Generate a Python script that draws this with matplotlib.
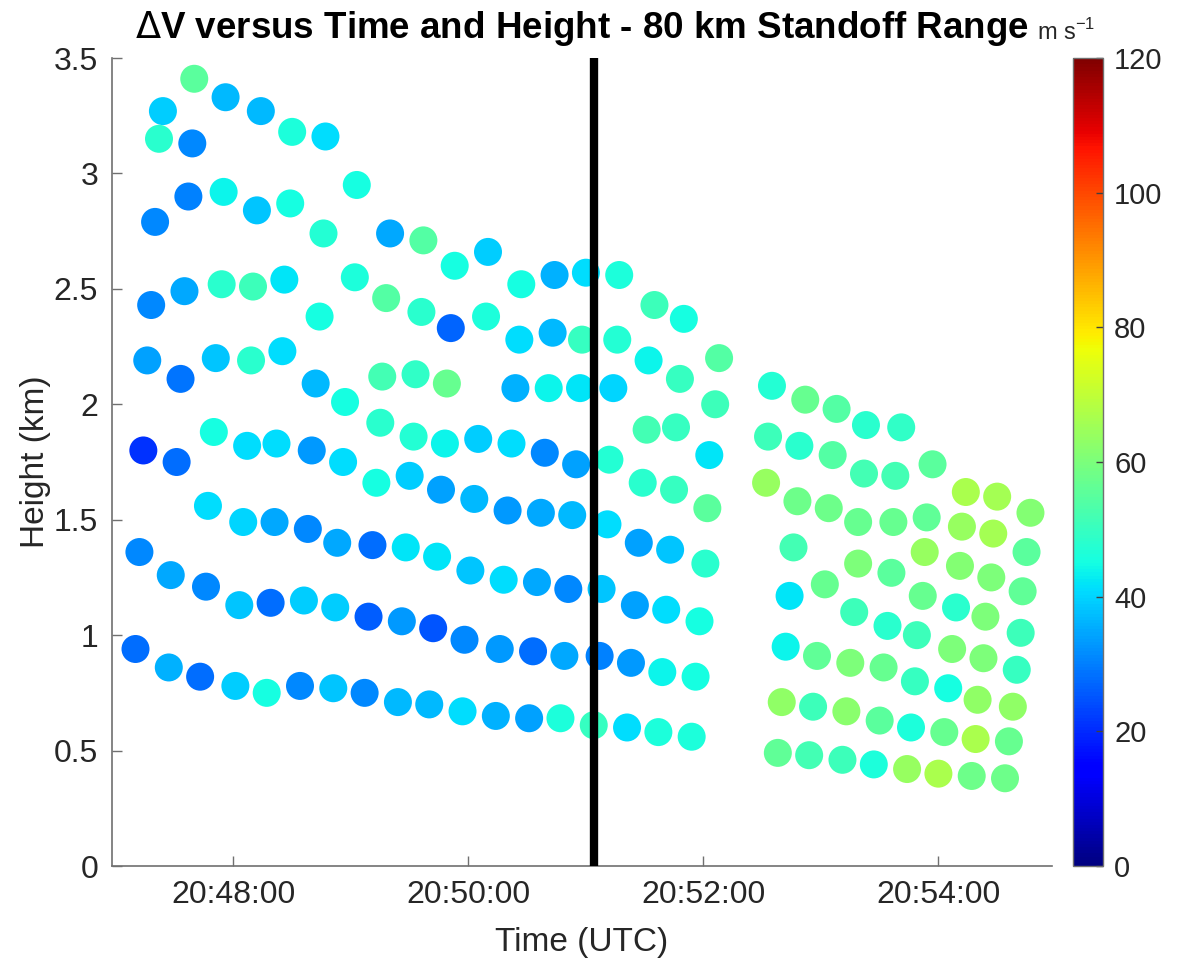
import numpy as np
import matplotlib
matplotlib.use("Agg")
import matplotlib.pyplot as plt
from matplotlib.ticker import FuncFormatter, FixedLocator

plt.rcParams['font.family'] = ['Liberation Sans', 'DejaVu Sans']

# ---- data: time in seconds relative to 20:48:00 UTC, height in km, dV in m/s ----
time_s = [
    -20, -36, -4, 14, 30, 47, -38, -21, 63, -23, -5, 12, 29, -40, 46, 80, 97,
    -42, -25, -6, 10, 26, 62, 44, 78, 96, -44, -27, -9, 9, 25, 42, 57, 76, 93,
    113, 130, 147, 164, 180, 197, 111, 129, 146, 163, 178, 196, 215, 230,
    109, 144, 161, 177, 194, 212, 248, 228, 246,
    92, 108, 125, 142, 159, 175, 192, 211, 226, 243, 209, 225, 242,
    -46, -29, -10, 7, 22, 40, 56, 73, 90, 75,
    106, 123, 140, 157, 173, 191, 207, 223, 241,
    -13, 5, 21, 38, 53, 71, 88, 104, 121, 138, 155, 171, 188, 205, 221, 238,
    -48, -32, -14, 3, 19, 36, 52, 69, 86, 102, 118, 136, 153, 169, 187, 203, 219, 236,
    -50, -33, -17, 1, 17, 34, 51, 67, 84, 100, 117, 134, 151, 167, 184, 201, 217, 234,
    # second volume
    275, 292, 308, 323, 341, 273, 289, 306, 322, 338, 357,
    272, 288, 304, 319, 337, 354, 374, 390, 407, 372, 388,
    286, 319, 336, 353, 371, 387, 405,
    284, 302, 317, 334, 352, 369, 384, 403,
    282, 298, 315, 332, 349, 367, 383, 402, 348, 365, 400,
    280, 296, 313, 330, 346, 363, 380, 379, 398, 396,
    278, 294, 311, 327, 344, 360, 377, 394,
]
height_km = [
    3.41, 3.27, 3.33, 3.27, 3.18, 3.16, 3.15, 3.13, 2.95, 2.90, 2.92, 2.84, 2.87, 2.79, 2.74, 2.74, 2.71,
    2.43, 2.49, 2.52, 2.51, 2.54, 2.55, 2.38, 2.46, 2.40, 2.19, 2.11, 2.20, 2.19, 2.23, 2.09, 2.01, 2.12, 2.13,
    2.60, 2.66, 2.52, 2.56, 2.57, 2.56, 2.33, 2.38, 2.28, 2.31, 2.28, 2.28, 2.43, 2.37,
    2.09, 2.07, 2.07, 2.07, 2.07, 2.19, 2.20, 2.11, 2.00,
    1.86, 1.83, 1.85, 1.83, 1.79, 1.74, 1.76, 1.89, 1.90, 1.78, 1.66, 1.63, 1.55,
    1.80, 1.75, 1.88, 1.82, 1.83, 1.80, 1.75, 1.66, 1.69, 1.92,
    1.63, 1.59, 1.54, 1.53, 1.52, 1.48, 1.40, 1.37, 1.31,
    1.56, 1.49, 1.49, 1.46, 1.40, 1.39, 1.38, 1.34, 1.28, 1.24, 1.23, 1.20, 1.20, 1.13, 1.11, 1.06,
    1.36, 1.26, 1.21, 1.13, 1.14, 1.15, 1.12, 1.08, 1.06, 1.03, 0.98, 0.94, 0.93, 0.91, 0.91, 0.88, 0.84, 0.82,
    0.94, 0.86, 0.82, 0.78, 0.75, 0.78, 0.77, 0.75, 0.71, 0.70, 0.67, 0.65, 0.64, 0.64, 0.61, 0.60, 0.58, 0.56,
    2.08, 2.02, 1.98, 1.91, 1.90, 1.86, 1.82, 1.78, 1.70, 1.69, 1.74,
    1.66, 1.58, 1.55, 1.49, 1.49, 1.51, 1.62, 1.60, 1.53, 1.47, 1.44,
    1.38, 1.31, 1.27, 1.36, 1.30, 1.25, 1.36,
    1.17, 1.22, 1.10, 1.04, 1.17, 1.12, 1.08, 1.19,
    0.95, 0.91, 0.88, 0.86, 1.00, 0.94, 0.90, 1.01, 0.80, 0.77, 0.85,
    0.71, 0.69, 0.67, 0.63, 0.60, 0.58, 0.72, 0.55, 0.69, 0.54,
    0.49, 0.48, 0.46, 0.44, 0.42, 0.40, 0.39, 0.38,
]
delta_v = [
    55, 39, 37, 37, 46, 41, 48, 31, 45, 30, 44, 38, 45, 31, 47, 35, 54,
    31, 35, 48, 51, 42, 46, 45, 54, 48, 34, 29, 38, 48, 41, 37, 45, 52, 49,
    45, 39, 45, 36, 41, 46, 27, 46, 41, 37, 50, 47, 51, 45,
    57, 36, 44, 42, 40, 44, 54, 50, 51,
    47, 44, 39, 41, 31, 34, 47, 52, 50, 42, 48, 50, 55,
    21, 28, 45, 41, 41, 33, 41, 45, 39, 48,
    34, 37, 33, 35, 37, 41, 34, 38, 48,
    41, 40, 35, 31, 35, 28, 42, 42, 38, 41, 35, 31, 38, 34, 41, 45,
    31, 35, 31, 38, 28, 39, 39, 26, 33, 25, 31, 33, 28, 35, 30, 33, 44, 45,
    28, 36, 28, 39, 45, 31, 38, 31, 37, 37, 41, 36, 34, 46, 50, 41, 46, 46,
    47, 57, 54, 48, 49, 51, 48, 54, 52, 52, 55,
    64, 58, 58, 57, 57, 56, 67, 66, 61, 64, 66,
    52, 60, 55, 64, 61, 60, 55,
    42, 57, 51, 48, 57, 48, 60, 56,
    44, 56, 60, 57, 51, 60, 60, 51, 50, 45, 50,
    63, 51, 62, 55, 46, 57, 63, 67, 63, 57,
    56, 52, 51, 46, 64, 67, 58, 58,
]

standoff_time_s = 184          # vertical marker (20:51:04 UTC)
x_tick_s = [0, 120, 240, 360]  # 20:48:00 ... 20:54:00
y_ticks = [0, 0.5, 1, 1.5, 2, 2.5, 3, 3.5]
cbar_ticks = [0, 20, 40, 60, 80, 100, 120]
base_hms = (20, 48, 0)

# ---- figure ----
W, H = 1179, 963
fig = plt.figure(figsize=(W / 100, H / 100), dpi=100)
ax = fig.add_axes([112 / W, 1 - 866 / H, (1052 - 112) / W, (866 - 58) / H])
cax = fig.add_axes([1073 / W, 1 - 866 / H, 30 / W, (866 - 58) / H])

marker_px = 28
sc = ax.scatter(time_s, height_km, c=delta_v, cmap='jet', vmin=0, vmax=120,
                s=(marker_px * 72 / 100) ** 2, edgecolors='none', zorder=2)
ax.plot([standoff_time_s, standoff_time_s], [0, 3.5], color='black',
        linewidth=6, solid_capstyle='butt', zorder=3)

ax.set_xlim(-62, 418)
ax.set_ylim(0, 3.5)

def fmt_time(s, pos=None):
    tot = base_hms[0] * 3600 + base_hms[1] * 60 + base_hms[2] + int(round(s))
    return f"{tot // 3600:02d}:{(tot % 3600) // 60:02d}:{tot % 60:02d}"

ax.xaxis.set_major_locator(FixedLocator(x_tick_s))
ax.xaxis.set_major_formatter(FuncFormatter(fmt_time))
ax.yaxis.set_major_locator(FixedLocator(y_ticks))
ax.yaxis.set_major_formatter(FuncFormatter(lambda v, p: f"{v:g}"))

spine_col = '#262626'
for side in ['top', 'right']:
    ax.spines[side].set_visible(False)
for side in ['left', 'bottom']:
    ax.spines[side].set_color('#707070')
    ax.spines[side].set_linewidth(1.2)
ax.tick_params(direction='in', length=7, width=1, colors='#707070',
               labelcolor=spine_col, labelsize=23, pad=10)

ax.set_xlabel('Time (UTC)', fontsize=24, color=spine_col, labelpad=12)
ax.set_ylabel('Height (km)', fontsize=24, color=spine_col, labelpad=2)
fig.text(582 / W, 1 - 28 / H, r'$\Delta$V versus Time and Height - 80 km Standoff Range',
         ha='center', va='center', fontsize=26.5, fontweight='bold')
fig.text(1066 / W, 1 - 32 / H, r'm s$^{\mathregular{-1}}$', ha='center', va='center',
         fontsize=17, color=spine_col)

cb = fig.colorbar(sc, cax=cax, ticks=cbar_ticks)
cb.outline.set_edgecolor('#707070')
cb.outline.set_linewidth(1)
cax.tick_params(direction='in', length=5, width=1, colors='#404040',
                labelcolor=spine_col, labelsize=21, pad=8)

fig.savefig('out.png', dpi=100)
